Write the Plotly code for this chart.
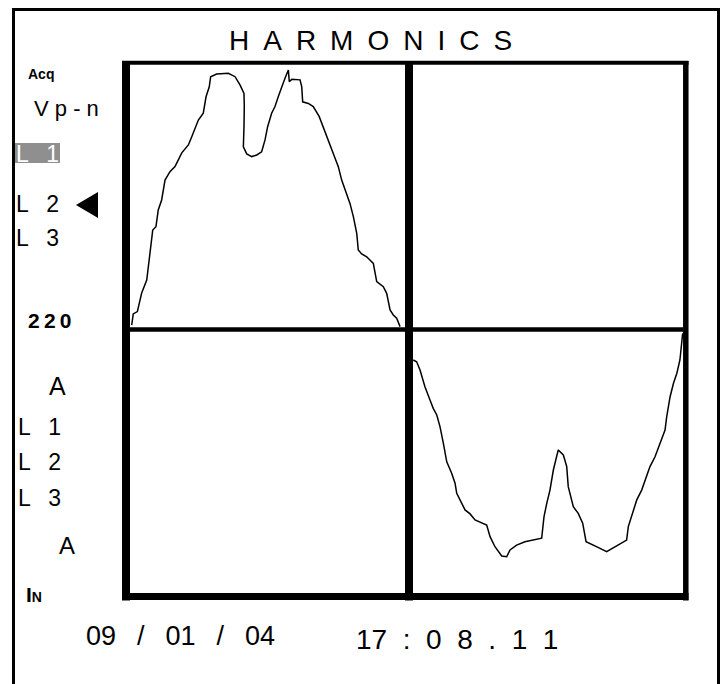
import plotly.graph_objects as go

W, H = 724, 684

# ---- data (phase angle in degrees, value in % of full scale) ----
v_pos_deg = [1.1, 2.1, 4.8, 7.6, 10.9, 13.0, 14.8, 16.9, 18.4, 20.6, 22.8, 26.0, 29.3, 33.7,
             38.0, 40.2, 44.5, 47.7, 49.5, 51.6, 52.5, 56.4, 64.0, 68.4, 71.6, 74.2, 74.4,
             74.2, 73.8, 76.0, 79.2, 82.5, 85.7, 87.9, 89.6, 92.2, 94.4, 96.5, 98.7, 100.9,
             103.1, 103.7, 105.3, 110.7, 111.8, 112.4, 116.1, 119.3, 123.2, 125.8, 129.1,
             132.3, 135.6, 137.8, 141.1, 143.2, 145.4, 147.6, 148.6, 150.8, 154.1, 158.4,
             160.6, 164.9, 167.1, 169.3, 171.4, 173.6, 175.8]
v_pos_val = [1.3, 5.5, 6.4, 13.4, 18.3, 28.5, 37.2, 38.5, 44.8, 48.6, 56.1, 59.3, 61.2, 66.4,
             69.4, 72.5, 78.8, 81.4, 87.6, 91.4, 95.2, 96.2, 96.5, 95.2, 92.1, 88.9, 83.9,
             76.3, 68.7, 66.0, 65.0, 65.6, 66.8, 71.3, 76.3, 81.4, 83.9, 87.6, 91.4, 94.6,
             97.7, 93.3, 94.2, 94.0, 91.4, 85.7, 85.1, 83.9, 80.1, 76.3, 71.3,
             66.2, 61.2, 56.1, 51.1, 47.3, 42.3, 36.0, 29.7, 28.2, 27.1, 24.6,
             17.7, 15.8, 13.3, 7.0, 5.1, 3.9, 0.7]

v_neg_deg = [184.4, 186.6, 188.8, 192.0, 195.3, 197.4, 199.7, 201.8, 204.0, 206.2, 209.4,
             211.6, 212.7, 214.8, 218.1, 221.4, 224.6, 232.2, 234.4, 237.6, 242.0, 245.2,
             247.4, 251.7, 257.1, 268.0, 269.5, 271.3, 273.4, 275.6, 277.3, 278.8, 282.1,
             284.3, 285.3, 286.4, 288.6, 291.8, 294.7, 296.9, 300.6, 306.0, 310.3, 315.7,
             323.3, 324.4, 326.6, 329.9, 333.1, 335.3, 338.5, 341.8, 345.0, 348.3, 349.4,
             351.6, 353.8, 356.0, 358.0, 359.8]
v_neg_val = [-11.9, -12.6, -15.7, -22.0, -27.0, -30.2, -32.7, -37.1, -43.4, -50.4, -54.7,
             -58.5, -62.3, -64.8, -68.6, -70.1, -72.4, -74.3, -78.7, -82.5, -86.0, -86.3,
             -83.7, -81.9, -80.6, -79.3, -71.2, -66.1, -61.1, -53.5, -49.7, -45.9, -47.8,
             -52.2, -59.8, -62.3, -67.4, -69.9, -73.6, -80.6, -81.5, -83.1, -84.4, -82.5,
             -80.0, -74.9, -71.2, -64.8, -61.1, -57.3, -52.2, -48.5, -43.4, -38.4, -33.3,
             -25.8, -20.7, -16.9, -11.9, -1.8]

title_text = "HARMONICS"
date_text = "09 / 01 / 04"
time_text = "17 : 0 8 . 1 1"

# ---- helpers: pixel -> paper ----
def PX(x):
    return x / W

def PY(y):
    return 1 - y / H

NB = "\u00a0"
FONT = "Liberation Sans, Arial, sans-serif"

fig = go.Figure()
fig.add_trace(go.Scatter(x=v_pos_deg, y=v_pos_val, mode="lines",
                         line=dict(color="black", width=1.5), hoverinfo="skip"))
fig.add_trace(go.Scatter(x=v_neg_deg, y=v_neg_val, mode="lines",
                         line=dict(color="black", width=1.5), hoverinfo="skip"))

shapes = []

def hline(y, x0, x1, w):
    shapes.append(dict(type="line", xref="paper", yref="paper", x0=PX(x0), x1=PX(x1),
                       y0=PY(y), y1=PY(y), line=dict(color="black", width=w)))

def vline(x, y0, y1, w):
    shapes.append(dict(type="line", xref="paper", yref="paper", x0=PX(x), x1=PX(x),
                       y0=PY(y0), y1=PY(y1), line=dict(color="black", width=w)))

# outer frame
hline(9.5, 12, 720, 3)
vline(13.5, 8, 684, 3)
vline(718.5, 8, 684, 3)

# instrument box
hline(62.8, 122, 688.5, 4)
hline(596.5, 122, 688.5, 7)
vline(126, 61, 600.5, 8)
vline(685.8, 61, 600.5, 5.5)
vline(409, 61, 600.5, 8)
hline(329.5, 130, 683, 4.5)

# highlight behind L1
shapes.append(dict(type="rect", xref="paper", yref="paper", x0=PX(14), x1=PX(60),
                   y0=PY(163), y1=PY(143), fillcolor="#8f8f8f", line=dict(width=0),
                   layer="below"))
# selection arrow
shapes.append(dict(type="path", xref="paper", yref="paper",
                   path=f"M {PX(98)} {PY(192)} L {PX(98)} {PY(218)} L {PX(76)} {PY(205)} Z",
                   fillcolor="black", line=dict(width=0)))

ann = []

def label(text, x, ycap, size, bold=False, color="black", anchor="left"):
    ann.append(dict(text=text, x=PX(x), y=PY(ycap), xref="paper", yref="paper",
                    xanchor=anchor, yanchor="middle", showarrow=False,
                    font=dict(family=FONT, size=size, color=color,
                              weight="bold" if bold else "normal")))

sp = "\u2002"
gapL = NB * 2 + "\u2009"
label(sp.join(title_text), 370, 40.5, 28, anchor="center")
label("Acq", 26, 74.5, 14, bold=True)
label(NB.join("Vp-n"), 32, 109, 22)
label("L" + gapL + "1", 14, 154, 23, color="white")
label("L" + gapL + "2", 14, 204, 23)
label("L" + gapL + "3", 14, 238, 23)
label("2\u20092\u20090", 26, 320.5, 21, bold=True)
label("A", 47, 386, 25)
label("L" + gapL + "1", 16, 426.5, 23)
label("L" + gapL + "2", 16, 461.5, 23)
label("L" + gapL + "3", 16, 498.5, 23)
label("A", 57, 545, 24)
label("I<span style='font-size:14px'>N</span>", 24, 594.5, 21, bold=True)
label(date_text.replace(" ", "\u2002" + NB), 84, 635.5, 27)
label(time_text.replace(" ", NB * 2), 354, 639, 28)

fig.update_layout(
    width=W, height=H, margin=dict(l=0, r=0, t=0, b=0),
    paper_bgcolor="white", plot_bgcolor="white", showlegend=False,
    shapes=shapes, annotations=ann,
    xaxis=dict(domain=[PX(130), PX(683)], range=[0, 360], visible=False, fixedrange=True),
    yaxis=dict(domain=[PY(593), PY(64)], range=[-100, 100], visible=False, fixedrange=True),
)

fig.write_html("out.html", config={"displayModeBar": False},
               post_script="document.body.style.margin='0';")
